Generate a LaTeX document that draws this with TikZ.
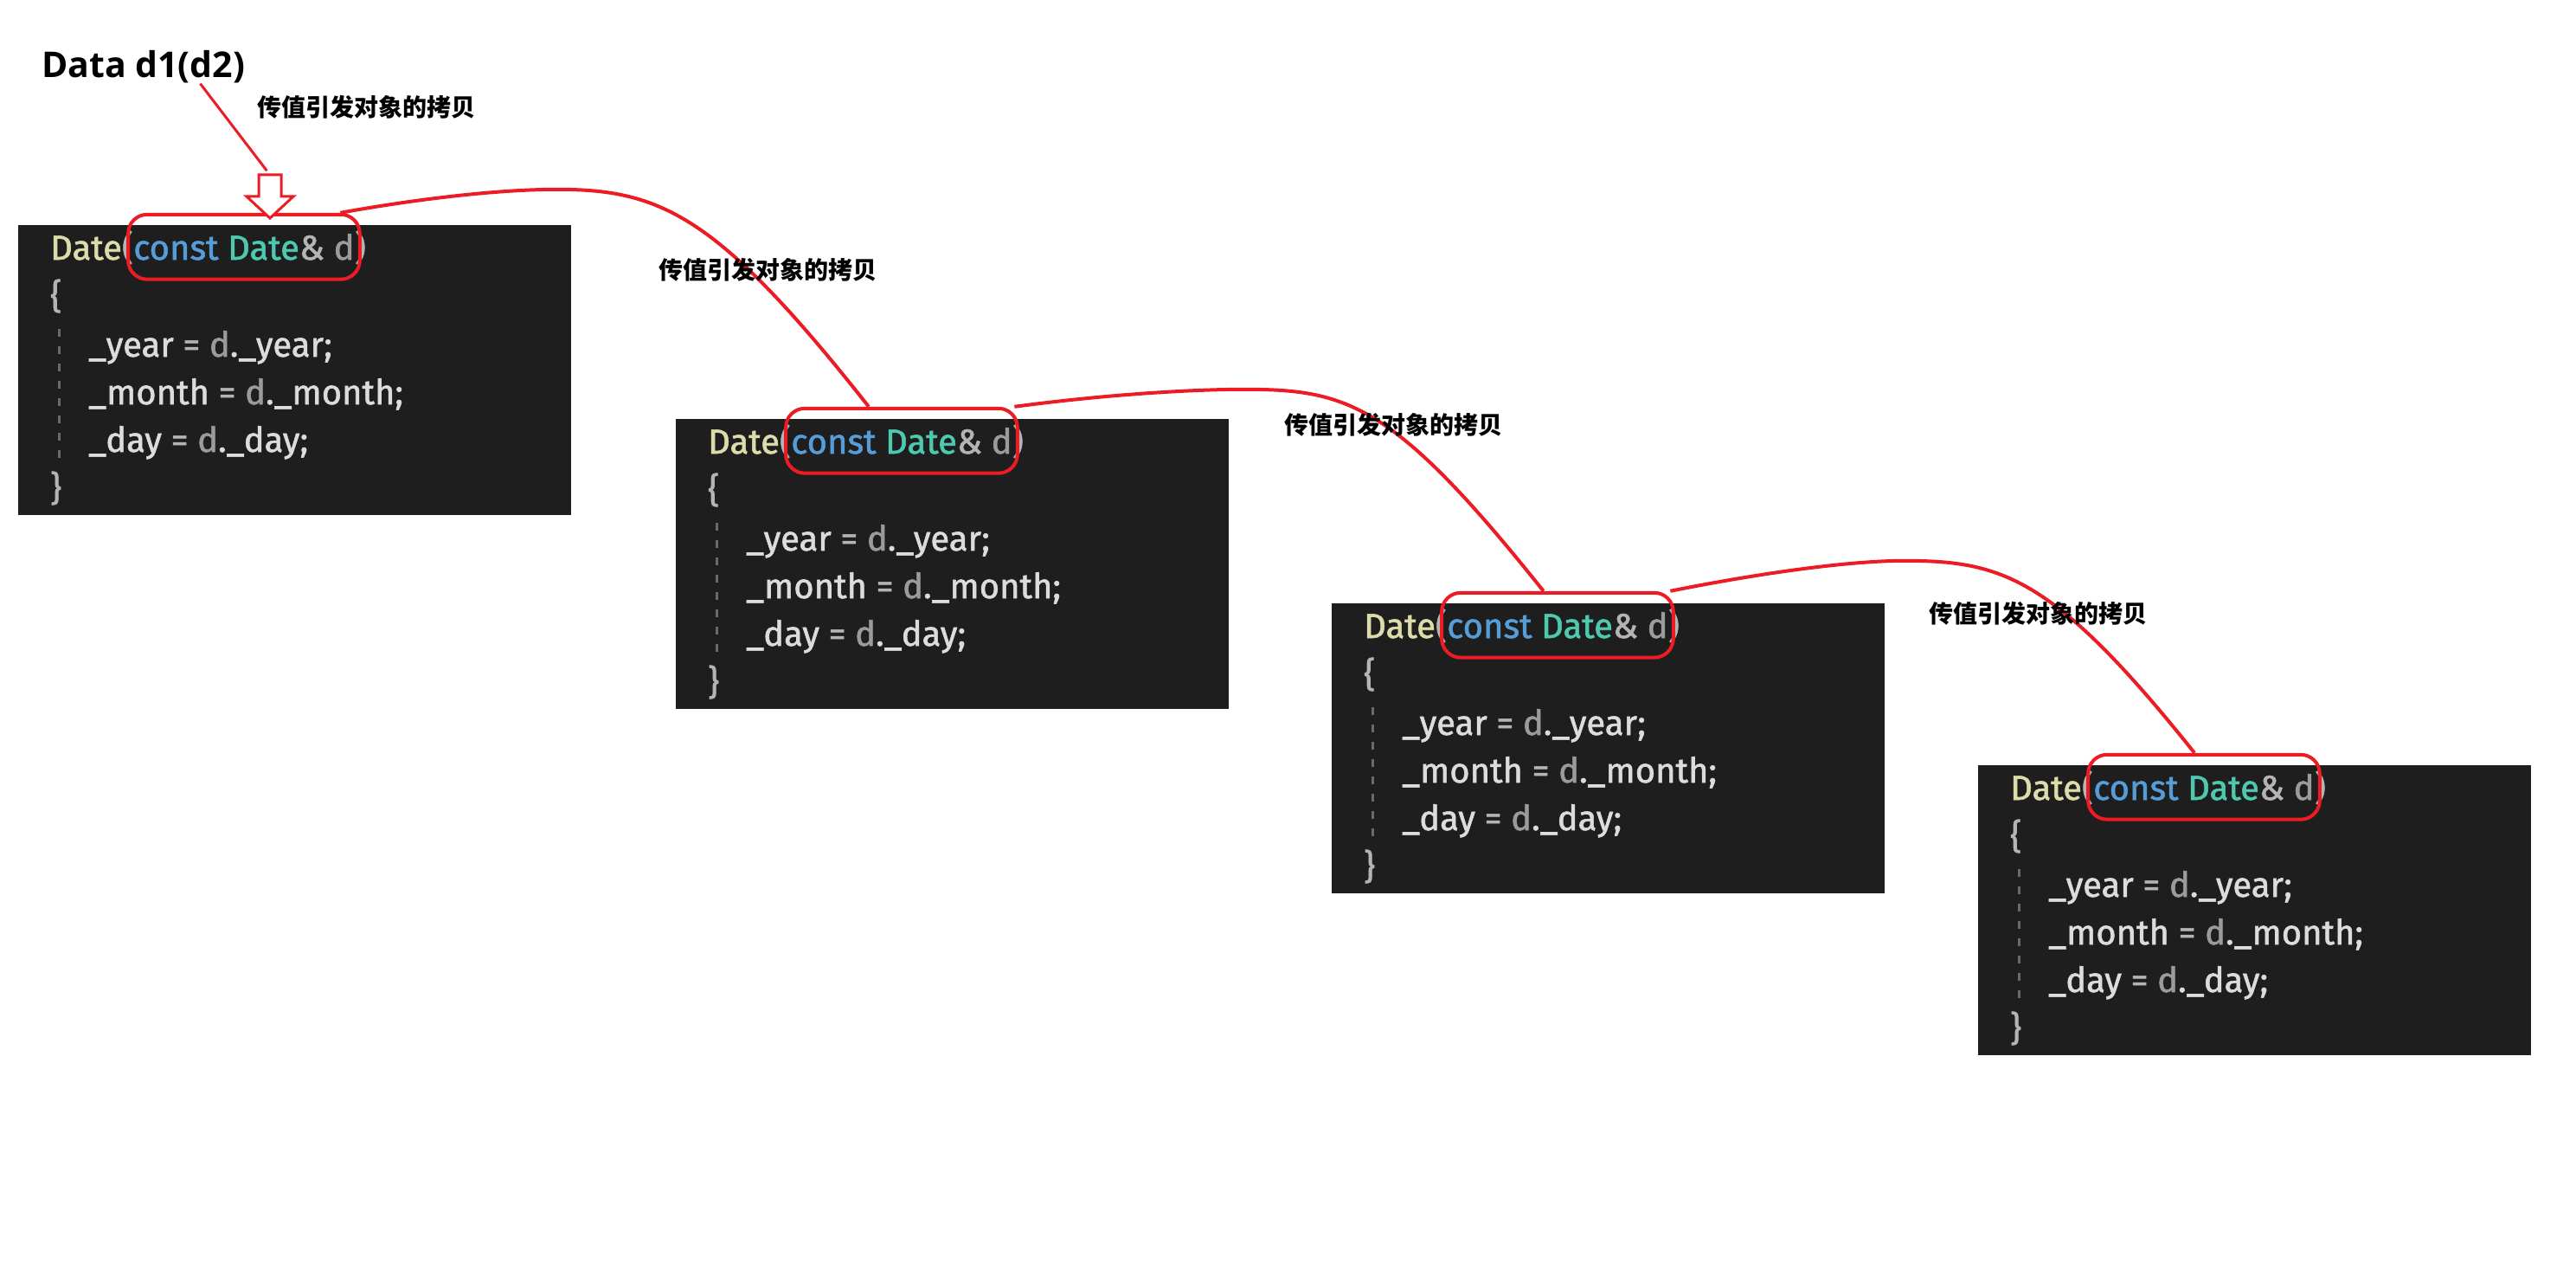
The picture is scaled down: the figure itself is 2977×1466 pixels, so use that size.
\documentclass[tikz,border=0pt]{standalone}
\usepackage{fontspec}
\setmainfont{Fira Sans}
\newfontfamily\codefont{Fira Sans}[FakeBold=1.4]
\newfontfamily\cjk{Noto Sans CJK SC}
\newfontfamily\titlefont{Open Sans}
\usepackage{tikz}
\usetikzlibrary{calc}
\usetikzlibrary{positioning}
\usetikzlibrary{fit}

\definecolor{codebg}{HTML}{1E1E1E}
\definecolor{fnyellow}{HTML}{DCDCAA}
\definecolor{kwblue}{HTML}{569CD6}
\definecolor{typegreen}{HTML}{4EC9B0}
\definecolor{punctgray}{HTML}{B4B4B4}
\definecolor{paramgray}{HTML}{9B9B9B}
\definecolor{membergray}{HTML}{DCDCDC}
\definecolor{guidegray}{HTML}{6A6A6A}
\definecolor{paintred}{HTML}{ED1C24}

\begin{document}
\begin{tikzpicture}[x=1pt, y=-1pt,
  code/.style={font=\codefont\fontsize{40}{48}\selectfont, inner sep=0pt, anchor=base west},
  note/.style={font=\cjk\bfseries\fontsize{28}{32}\selectfont, inner sep=0pt},
  hl/.style={draw=paintred, line width=4pt, rounded corners=22pt, inner xsep=6pt, inner ysep=22pt},
  copyline/.style={paintred, line width=4pt}]

\path[fill=white, use as bounding box] (0,0) rectangle (2977,1466);

\node[font=\titlefont\bfseries\fontsize{41}{48}\selectfont, inner sep=0pt, anchor=base west] (title) at (48,90) {Data d1(d2)};

% the four copies of the copy constructor
\foreach \n/\x/\y in {1/21/260, 2/781/484, 3/1539/697, 4/2286/884}
{
\fill[codebg] (\x,\y) rectangle ++(639,335);
\node[code] (fn\n) at ({\x+37},{\y+40}) {\textcolor{fnyellow}{Date}\textcolor{punctgray}{(}};
\node[code] (arg\n) at (fn\n.base east) {\textcolor{kwblue}{const} \textcolor{typegreen}{Date}\textcolor{punctgray}{\&} \textcolor{paramgray}{d}};
\node[code, text=punctgray] (close\n) at (arg\n.base east) {)};
\node[code, text=punctgray] (lbr\n) at ({\x+37},{\y+96}) {\{};
\node[code] (year\n) at ({\x+81},{\y+152}) {\textcolor{membergray}{\_year} \textcolor{punctgray}{=} \textcolor{paramgray}{d}\textcolor{membergray}{.\_year;}};
\node[code] (month\n) at ({\x+81},{\y+207}) {\textcolor{membergray}{\_month} \textcolor{punctgray}{=} \textcolor{paramgray}{d}\textcolor{membergray}{.\_month;}};
\node[code] (day\n) at ({\x+81},{\y+262}) {\textcolor{membergray}{\_day} \textcolor{punctgray}{=} \textcolor{paramgray}{d}\textcolor{membergray}{.\_day;}};
\node[code, text=punctgray] (rbr\n) at ({\x+37},{\y+318}) {\}};
\draw[guidegray, line width=3pt, dash pattern=on 9pt off 11pt] ({\x+47},{\y+120}) -- ({\x+47},{\y+278});
\node[hl, fit=(arg\n)] (hl\n) {};
}

% hollow arrow under the call
\coordinate (arrtop) at (312,202);
\draw[copyline, line width=3pt, fill=white, line join=miter] (arrtop) ++(-13,0) -- ++(26,0) -- ++(0,25) -- ++(14,0) -- ++(-27,25) -- ++(-27,-25) -- ++(14,0) -- cycle;
\draw[copyline, line width=3pt, shorten >=6pt] ($(title.south west)!.78!(title.south east)$) -- (arrtop);

% copy to copy
\draw[copyline] ($(hl1.north west)!.91!(hl1.north east)$) .. controls +(100,-18) and +(-60,0) .. ++(250,-27)
  .. controls +(120,0) and +(-175,-222) .. ($(hl2.north west)!.36!(hl2.north east)$);
\draw[copyline] ($(hl2.north west)!.98!(hl2.north east)$) .. controls +(105,-14) and +(-60,0) .. ++(265,-20)
  .. controls +(120,0) and +(-173,-217) .. ($(hl3.north west)!.44!(hl3.north east)$);
\draw[copyline] ($(hl3.north west)!.98!(hl3.north east)$) .. controls +(110,-22) and +(-60,0) .. ++(270,-35)
  .. controls +(113,0) and +(-163,-204) .. ($(hl4.north west)!.46!(hl4.north east)$);

\node[note] (note1) at (423,124) {传值引发对象的拷贝};
\node[note] (note2) at (887,312) {传值引发对象的拷贝};
\node[note] (note3) at (1610,491) {传值引发对象的拷贝};
\node[note] (note4) at (2355,709) {传值引发对象的拷贝};

\end{tikzpicture}
\end{document}
